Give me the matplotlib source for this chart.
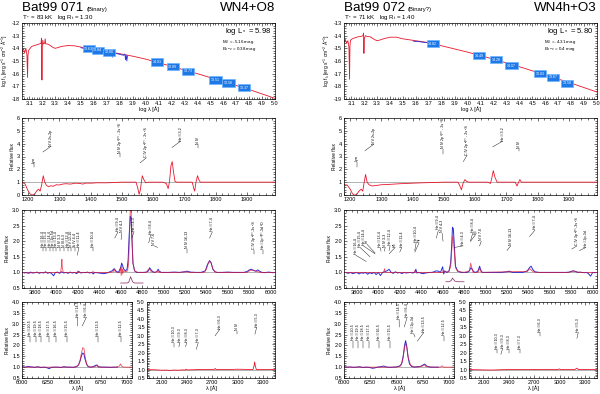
import numpy as np
import matplotlib
matplotlib.use("Agg")
import matplotlib.pyplot as plt
from matplotlib.ticker import MultipleLocator, FormatStrFormatter

plt.rcParams['font.family'] = ['Liberation Sans', 'DejaVu Sans']
plt.rcParams['mathtext.default'] = 'regular'

W, H = 600, 394

# ---------------- header text ----------------
star_names = ["Bat99 071", "Bat99 072"]
star_notes = ["(Binary)", "(Binary?)"]
spec_types = ["WN4+O8", "WN4h+O3"]
star_params = ["T$_*$ = 83 kK   log R$_t$ = 1.30", "T$_*$ = 71 kK   log R$_t$ = 1.40"]
lum_text = ["log L$_*$ = 5.98", "log L$_*$ = 5.80"]
mv_text = ["M$_V$ = -5.16 mag", "M$_V$ = -4.31 mag"]
ebv_text = ["E$_{b-v}$ = 0.38 mag", "E$_{b-v}$ = 0.4 mag"]
sed_ylims = [(-18, -12), (-19, -13)]

# ---------------- SED, Bat99 071 ----------------
sed_mod_x_071 = [3.045, 3.055, 3.065, 3.075, 3.083, 3.088, 3.091, 3.095, 3.10, 3.12,
                 3.15, 3.18, 3.192, 3.196, 3.199, 3.202, 3.206, 3.21, 3.22, 3.224,
                 3.228, 3.24, 3.26, 3.28, 3.30, 3.32, 3.35, 3.40, 3.45, 3.50,
                 3.60, 3.70, 3.80, 3.90, 4.00, 4.20, 4.40, 4.60, 4.80, 5.00]
sed_mod_y_071 = [-14.25, -14.0, -14.35, -14.0, -14.5, -16.3, -14.6, -14.2, -14.1, -13.85,
                 -13.75, -13.65, -13.6, -13.2, -16.5, -13.8, -13.35, -13.65, -13.6, -13.25,
                 -13.65, -13.65, -13.75, -13.9, -14.0, -13.95, -13.85, -13.78, -13.8, -13.9,
                 -14.1, -14.25, -14.42, -14.62, -14.85, -15.42, -16.0, -16.62, -17.25, -17.95]
sed_obs_x_071 = [3.50, 3.52, 3.54, 3.56, 3.58, 3.60, 3.62, 3.64, 3.66, 3.665,
                 3.67, 3.68, 3.70, 3.72, 3.74, 3.745, 3.75, 3.77, 3.79, 3.81,
                 3.83, 3.84, 3.845, 3.85, 3.855, 3.86]
sed_obs_y_071 = [-13.95, -14.0, -13.98, -14.08, -14.05, -14.12, -14.15, -14.18, -14.2, -13.95,
                 -14.3, -14.22, -14.28, -14.3, -14.35, -14.7, -14.35, -14.4, -14.45, -14.5,
                 -14.55, -14.45, -14.9, -14.55, -15.0, -14.6]
phot_x_071 = [3.56, 3.63, 3.72, 4.09, 4.21, 4.33, 4.54, 4.64, 4.76]
phot_y_071 = [-14.04, -14.15, -14.3, -15.08, -15.46, -15.8, -16.5, -16.74, -17.12]
phot_lbl_071 = ["13.63", "13.84", "13.80", "14.03", "13.89", "13.73", "13.51", "13.58", "13.37"]

# ---------------- SED, Bat99 072 ----------------
sed_mod_x_072 = [3.045, 3.055, 3.065, 3.075, 3.083, 3.088, 3.091, 3.095, 3.10, 3.12,
                 3.15, 3.18, 3.192, 3.196, 3.199, 3.202, 3.21, 3.22, 3.25, 3.28,
                 3.30, 3.32, 3.35, 3.40, 3.45, 3.50, 3.60, 3.70, 3.80, 3.90,
                 4.00, 4.20, 4.40, 4.60, 4.80, 5.00]
sed_mod_y_072 = [-14.5, -14.3, -14.6, -14.4, -14.9, -17.45, -14.8, -14.4, -14.3, -14.2,
                 -14.1, -14.05, -14.0, -13.8, -15.4, -14.2, -14.0, -14.05, -14.1, -14.3,
                 -14.4, -14.35, -14.25, -14.12, -14.12, -14.25, -14.4, -14.55, -14.8, -15.05,
                 -15.3, -15.85, -16.45, -17.1, -17.75, -18.45]
sed_obs_x_072 = [3.58, 3.60, 3.62, 3.64, 3.66, 3.68, 3.70, 3.72]
sed_obs_y_072 = [-14.42, -14.47, -14.45, -14.5, -14.52, -14.55, -14.52, -14.6]
phot_x_072 = [3.73, 4.09, 4.22, 4.34, 4.56, 4.66, 4.77]
phot_y_072 = [-14.62, -15.57, -15.9, -16.38, -17.0, -17.3, -17.77]
phot_lbl_072 = ["14.82", "14.49", "14.28", "14.07", "13.83", "13.67", "13.58"]

# ---------------- UV (relative flux) ----------------
uv_x_071 = [1181, 1190, 1198, 1205, 1212, 1220, 1228, 1233, 1238, 1243,
            1248, 1253, 1258, 1265, 1272, 1280, 1290, 1300, 1310, 1320,
            1335, 1350, 1365, 1375, 1385, 1400, 1420, 1450, 1480, 1500,
            1545, 1550, 1555, 1559, 1565, 1570, 1576, 1585, 1630, 1642,
            1648, 1652, 1657, 1661, 1665, 1670, 1676, 1725, 1730, 1733,
            1737, 1742, 1746, 1751, 1990]
uv_y_071 = [0.99, 0.85, 0.40, 0.10, 0.00, 0.05, 0.35, 0.45, 0.30, 0.80,
            1.50, 1.00, 0.75, 0.65, 0.72, 0.68, 0.80, 0.78, 0.85, 0.88,
            0.85, 0.92, 0.90, 0.85, 0.93, 0.92, 0.95, 0.95, 0.98, 1.00,
            1.00, 0.60, 0.05, 0.40, 1.50, 1.20, 0.95, 1.00, 1.00, 0.90,
            0.50, 1.00, 2.30, 2.60, 1.80, 1.05, 1.00, 1.00, 0.50, 0.30,
            1.00, 1.50, 1.20, 1.00, 1.00]
uv_x_072 = [1180, 1190, 1200, 1207, 1213, 1220, 1228, 1235, 1240, 1244,
            1249, 1254, 1260, 1270, 1285, 1300, 1320, 1340, 1360, 1380,
            1400, 1430, 1460, 1500, 1545, 1551, 1556, 1561, 1567, 1573,
            1580, 1640, 1649, 1653, 1658, 1663, 1670, 1728, 1734, 1739,
            1743, 1748, 1990]
uv_y_072 = [0.80, 0.78, 0.45, 0.10, 0.00, 0.02, 0.30, 0.45, 0.30, 0.90,
            1.60, 1.00, 0.80, 0.70, 0.75, 0.80, 0.82, 0.85, 0.88, 0.90,
            0.92, 0.95, 0.97, 1.00, 1.00, 0.70, 0.40, 0.90, 1.20, 1.05,
            1.00, 1.00, 0.90, 1.30, 1.90, 1.40, 1.00, 1.00, 0.70, 1.00,
            1.20, 1.00, 1.00]

# ---------------- optical ----------------
opt_obs_x_071 = [3700, 3720, 3740, 3760, 3780, 3800, 3820, 3840, 3860, 3880,
                 3900, 3920, 3940, 3960, 3975, 3990, 4010, 4030, 4050, 4070,
                 4090, 4110, 4130, 4150, 4170, 4190, 4210, 4230, 4250, 4270,
                 4290, 4310, 4330, 4345, 4360, 4380, 4400, 4420, 4440, 4460,
                 4480, 4500, 4520, 4540, 4560, 4580, 4600, 4610, 4620, 4630,
                 4645, 4660, 4670, 4680, 4690, 4698, 4705, 4715, 4730, 4750,
                 4780, 4810, 4840, 4860, 4870, 4880, 4900, 4920, 4940, 4950,
                 4960, 4980, 5000, 5050, 5100, 5150, 5200, 5220, 5250, 5300,
                 5350, 5390, 5410, 5430, 5445, 5460, 5480, 5500, 5550, 5600,
                 5650, 5700, 5750, 5780, 5800, 5820, 5840, 5860, 5880, 5900,
                 5920, 5940, 5960, 5980, 6000, 6020, 6040]
opt_obs_y_071 = [0.98, 1.00, 0.97, 1.01, 0.98, 0.99, 1.01, 0.97, 1.00, 0.98,
                 1.02, 0.97, 1.00, 0.95, 0.89, 0.99, 1.01, 0.97, 1.02, 0.98,
                 1.00, 0.97, 1.01, 0.98, 1.00, 0.96, 1.03, 0.98, 1.00, 0.99,
                 1.01, 0.98, 1.00, 0.95, 1.00, 0.99, 0.98, 0.97, 0.96, 0.97,
                 0.99, 1.02, 1.05, 1.12, 1.03, 1.00, 1.15, 1.30, 1.20, 1.10,
                 1.05, 1.10, 1.40, 2.20, 2.80, 2.75, 2.10, 1.30, 1.05, 1.00,
                 1.00, 1.00, 1.01, 1.05, 1.15, 1.10, 1.02, 1.00, 1.03, 1.10,
                 1.04, 1.00, 1.00, 1.00, 1.01, 1.00, 1.02, 1.04, 1.01, 1.00,
                 1.00, 1.05, 1.25, 1.38, 1.30, 1.10, 1.02, 1.00, 1.00, 1.01,
                 1.00, 1.00, 1.00, 1.03, 1.08, 1.10, 1.06, 1.04, 1.08, 1.03,
                 1.00, 0.99, 1.00, 1.01, 1.00, 0.99, 1.00]
opt_mod_x_071 = [3680, 3750, 3800, 3850, 3900, 3950, 4000, 4040, 4048, 4052,
                 4056, 4065, 4100, 4195, 4200, 4205, 4300, 4338, 4342, 4346,
                 4400, 4500, 4530, 4540, 4550, 4590, 4600, 4605, 4610, 4615,
                 4620, 4625, 4635, 4650, 4665, 4675, 4685, 4690, 4697, 4705,
                 4715, 4730, 4760, 4840, 4855, 4868, 4885, 4930, 4945, 4955,
                 4970, 5150, 5200, 5250, 5380, 5400, 5420, 5440, 5460, 5480,
                 5500, 5780, 5800, 5830, 5850, 5870, 5900, 6040]
opt_mod_y_071 = [1.00, 0.98, 1.00, 0.99, 1.00, 1.00, 1.00, 1.00, 1.20, 1.42,
                 1.15, 1.00, 1.00, 1.00, 1.05, 1.00, 1.00, 1.00, 1.04, 1.00,
                 1.00, 1.00, 1.02, 1.10, 1.02, 1.00, 1.15, 0.90, 1.20, 0.95,
                 1.10, 1.00, 1.05, 1.02, 1.05, 1.30, 2.50, 3.05, 3.10, 2.20,
                 1.30, 1.05, 1.00, 1.00, 1.08, 1.12, 1.02, 1.00, 1.07, 1.00,
                 1.00, 1.00, 1.02, 1.00, 1.00, 1.10, 1.32, 1.34, 1.12, 1.02,
                 1.00, 1.00, 1.05, 1.08, 1.06, 1.03, 1.00, 1.00]
opt_ins_x_071 = [4600, 4660, 4675, 4685, 4692, 4700, 4712, 4730, 4810]
opt_ins_y_071 = [0.66, 0.66, 0.68, 0.78, 0.86, 0.80, 0.70, 0.66, 0.66]

opt_obs_x_072 = [3700, 3720, 3740, 3760, 3780, 3800, 3820, 3840, 3860, 3880,
                 3900, 3920, 3940, 3960, 3980, 4000, 4020, 4040, 4060, 4080,
                 4100, 4120, 4140, 4160, 4180, 4200, 4220, 4240, 4260, 4280,
                 4300, 4320, 4340, 4350, 4360, 4380, 4400, 4420, 4440, 4460,
                 4480, 4500, 4520, 4540, 4560, 4580, 4600, 4610, 4620, 4640,
                 4660, 4675, 4685, 4692, 4700, 4710, 4720, 4740, 4770, 4800,
                 4830, 4850, 4862, 4875, 4890, 4910, 4930, 4945, 4955, 4970,
                 5000, 5050, 5100, 5150, 5200, 5220, 5250, 5300, 5350, 5390,
                 5410, 5425, 5440, 5460, 5500, 5550, 5600, 5650, 5700, 5750,
                 5780, 5800, 5820, 5840, 5860, 5880, 5900, 5920, 5940, 5960,
                 5980, 6000, 6020, 6040]
opt_obs_y_072 = [0.99, 0.97, 1.00, 0.96, 0.98, 1.00, 0.95, 0.99, 0.97, 1.00,
                 0.94, 0.99, 0.96, 1.00, 0.93, 1.00, 0.90, 1.00, 1.02, 1.05,
                 1.10, 1.00, 0.97, 1.02, 0.98, 1.00, 0.96, 1.00, 0.98, 0.99,
                 1.00, 0.98, 1.00, 1.10, 0.98, 1.00, 0.97, 0.96, 0.98, 0.99,
                 1.00, 1.00, 1.02, 1.05, 1.04, 1.00, 1.18, 0.95, 1.05, 1.00,
                 1.05, 1.30, 1.90, 2.45, 2.40, 1.80, 1.20, 1.05, 1.00, 1.00,
                 1.00, 1.05, 1.15, 1.10, 1.02, 1.00, 1.05, 1.20, 1.08, 1.00,
                 1.00, 1.00, 1.00, 1.00, 1.02, 1.04, 1.00, 1.00, 1.00, 1.05,
                 1.15, 1.20, 1.10, 1.02, 1.00, 1.00, 1.00, 1.00, 1.00, 1.00,
                 1.01, 1.03, 1.05, 1.03, 1.00, 1.01, 1.00, 0.99, 1.00, 0.96,
                 0.88, 1.00, 0.99, 1.00]
opt_mod_x_072 = [3680, 3800, 3900, 4000, 4050, 4058, 4066, 4100, 4200, 4335,
                 4342, 4350, 4500, 4600, 4605, 4640, 4660, 4675, 4685, 4693,
                 4700, 4710, 4720, 4740, 4800, 4850, 4862, 4872, 4885, 4930,
                 4945, 4952, 4965, 5200, 5390, 5412, 5425, 5445, 5480, 5780,
                 5810, 5840, 5870, 6040]
opt_mod_y_072 = [1.00, 1.00, 1.00, 1.00, 1.00, 1.12, 1.00, 1.00, 1.00, 1.00,
                 1.06, 1.00, 1.00, 1.00, 1.05, 1.00, 1.03, 1.20, 1.70, 2.15,
                 2.10, 1.60, 1.15, 1.03, 1.00, 1.05, 1.30, 1.15, 1.00, 1.00,
                 1.15, 1.05, 1.00, 1.02, 1.03, 1.12, 1.08, 1.02, 1.00, 1.00,
                 1.05, 1.03, 1.00, 1.00]
opt_ins_x_072 = [4630, 4660, 4680, 4692, 4700, 4715, 4740, 4800]
opt_ins_y_072 = [0.70, 0.70, 0.74, 0.82, 0.78, 0.72, 0.70, 0.70]

# ---------------- H-alpha region ----------------
ha_obs_x_071 = [6000, 6030, 6060, 6090, 6120, 6150, 6180, 6210, 6240, 6260,
                6280, 6310, 6340, 6370, 6400, 6430, 6460, 6490, 6520, 6540,
                6555, 6570, 6580, 6590, 6600, 6615, 6630, 6650, 6680, 6700,
                6715, 6730, 6760, 6800, 6840, 6880, 6910]
ha_obs_y_071 = [1.02, 1.00, 1.03, 1.01, 0.99, 1.02, 0.98, 1.00, 0.97, 0.93,
                0.99, 1.00, 1.00, 0.98, 1.02, 1.00, 1.00, 0.99, 1.02, 1.10,
                1.30, 1.55, 1.65, 1.62, 1.40, 1.15, 1.03, 1.00, 1.02, 1.08,
                1.10, 1.02, 1.00, 1.00, 0.99, 1.00, 1.00]
ha_mod_x_071 = [6000, 6100, 6200, 6300, 6400, 6500, 6530, 6550, 6565, 6580,
                6592, 6605, 6620, 6640, 6660, 6700, 6715, 6730, 6800, 6900,
                6930, 6940, 6950, 6970, 7050]
ha_mod_y_071 = [1.0, 1.0, 1.0, 1.0, 1.0, 1.0, 1.05, 1.2, 1.6, 1.9,
                1.85, 1.4, 1.1, 1.02, 1.0, 1.02, 1.08, 1.0, 1.0, 1.0,
                1.05, 1.15, 1.05, 1.0, 1.0]
ha_obs_x_072 = [6000, 6030, 6060, 6090, 6120, 6150, 6180, 6210, 6240, 6270,
                6290, 6320, 6350, 6380, 6410, 6440, 6470, 6500, 6530, 6550,
                6565, 6578, 6588, 6598, 6610, 6625, 6645, 6670, 6700, 6730,
                6755, 6770, 6790, 6820, 6860, 6900]
ha_obs_y_072 = [1.02, 1.00, 1.01, 0.99, 1.00, 1.02, 0.98, 1.00, 0.99, 0.95,
                0.96, 1.00, 1.02, 1.05, 1.00, 0.99, 1.00, 1.01, 1.05, 1.15,
                1.50, 2.00, 2.22, 2.00, 1.50, 1.15, 1.03, 1.00, 1.02, 1.03,
                1.10, 1.14, 1.05, 1.00, 1.00, 1.00]
ha_mod_x_072 = [6000, 6200, 6400, 6500, 6540, 6560, 6575, 6588, 6600, 6615,
                6635, 6660, 6700, 6750, 6765, 6780, 6850, 6920, 6935, 6950, 7050]
ha_mod_y_072 = [1.0, 1.0, 1.0, 1.0, 1.05, 1.3, 1.8, 2.1, 1.9, 1.4,
                1.1, 1.02, 1.0, 1.05, 1.12, 1.03, 1.0, 1.0, 1.06, 1.0, 1.0]

# ---------------- near-UV (2000-3400 A) ----------------
nuv_x_071 = [1930, 2050, 2100, 2150, 2200, 2250, 2300, 2350, 2380, 2390,
             2400, 2500, 2510, 2520, 2700, 2725, 2735, 2745, 2900, 3000,
             3180, 3192, 3200, 3208, 3220, 3440]
nuv_y_071 = [1.0, 0.98, 0.96, 0.97, 0.95, 0.97, 0.96, 0.98, 0.97, 1.02,
             0.98, 0.99, 1.01, 1.0, 1.0, 1.02, 1.06, 1.0, 1.0, 1.02,
             1.0, 1.2, 1.45, 1.2, 1.0, 1.0]
nuv_x_072 = [1930, 2100, 2200, 2300, 2400, 2700, 2730, 2750, 2980, 2995,
             3010, 3180, 3195, 3205, 3220, 3440]
nuv_y_072 = [1.0, 0.98, 0.97, 0.99, 1.0, 1.0, 1.01, 1.0, 1.0, 1.04,
             1.0, 1.0, 1.06, 1.08, 1.0, 1.0]

# ---------------- line identifications: (text, x_line, x_text, y_line, y_text) ----------------
uv_ids_071 = [("Ly\u03b1", 1217, 1217, 2.2, 2.5),
              ("N V 2s-2p", 1247, 1273, 3.35, 3.8),
              ("N IV 2p \u00b3P\u00b0 - 2s \u00b3S", 1495, 1495, 3.0, 3.25),
              ("C IV 2p \u00b2P\u00b0 - 2s \u00b2S", 1558, 1578, 2.5, 2.9),
              ("He II 3-2", 1660, 1688, 3.7, 4.2),
              ("N IV", 1745, 1745, 3.7, 3.95)]
uv_ids_072 = [("Ly\u03b1", 1221, 1221, 2.2, 2.6),
              ("N V 2s-2p", 1247, 1275, 3.45, 3.95),
              ("N IV 2p \u00b3P\u00b0 - 2s \u00b3S", 1497, 1497, 3.2, 3.6),
              ("C IV 2p \u00b2P\u00b0 - 2s \u00b2S", 1562, 1574, 2.6, 3.1),
              ("He II 3-2", 1656, 1688, 3.75, 4.2),
              ("N IV", 1741, 1741, 3.45, 3.65)]
opt_ids_071 = [("He II 16-4", 3875, 3875, 1.68, 1.8),
               ("He II 15-4", 3906, 3906, 1.68, 1.8),
               ("He II 14-4", 3937, 3937, 1.68, 1.8),
               ("He I 2p-5d", 3969, 3969, 1.68, 1.8),
               ("He II 13-4", 4000, 4000, 1.68, 1.8),
               ("N IV 3-3", 4037, 4037, 1.68, 1.8),
               ("N III 4-3", 4068, 4068, 1.68, 1.8),
               ("He II 12-4", 4106, 4106, 1.68, 1.8),
               ("N V 12-10", 4137, 4137, 1.68, 1.8),
               ("Si IV 4-4", 4174, 4174, 1.68, 1.8),
               ("He II 11-4", 4195, 4211, 1.55, 1.8),
               ("He II 10-4", 4340, 4340, 1.68, 1.8),
               ("He II 9-4", 4545, 4575, 2.1, 2.3),
               ("N V 4-3", 4604, 4610, 2.05, 2.25),
               ("He II 4-3", 4705, 4725, 2.1, 2.3),
               ("He II 8-4", 4862, 4880, 1.95, 2.2),
               ("N V 7-6", 4945, 4915, 1.8, 1.85),
               ("N IV 16-13", 5220, 5220, 1.62, 1.75),
               ("He II 7-4", 5430, 5455, 2.1, 2.3),
               ("C IV 3p \u00b2P\u00b0-3s \u00b2S", 5845, 5845, 1.6, 1.72),
               ("He I 2p \u00b3P\u00b0-3d \u00b3D", 5930, 5930, 1.6, 1.72)]
opt_ids_072 = [("He II 16-4", 3888, 3790, 1.35, 1.55),
               ("He II 15-4", 3923, 3830, 1.5, 1.8),
               ("He II 14-4", 3968, 3862, 1.6, 1.85),
               ("H\u03b5", 3970, 3895, 1.62, 1.9),
               ("He II 13-4", 4026, 4017, 1.68, 1.8),
               ("N IV 3-3", 4058, 4064, 1.68, 1.8),
               ("He II 12-4", 4100, 4110, 1.7, 1.85),
               ("H\u03b4", 4102, 4157, 1.6, 1.8),
               ("He II 11-4", 4200, 4219, 1.65, 1.8),
               ("He II 10-4", 4340, 4353, 1.7, 1.95),
               ("H\u03b3", 4341, 4380, 1.65, 1.95),
               ("He II 9-4", 4541, 4560, 2.1, 2.35),
               ("N V 4-3", 4604, 4595, 2.0, 2.25),
               ("He II 4-3", 4712, 4790, 1.8, 1.85),
               ("He II 8-4", 4859, 4880, 2.0, 2.25),
               ("H\u03b2", 4861, 4905, 2.0, 2.2),
               ("N V 7-6", 4945, 4960, 1.85, 2.0),
               ("N IV 16-13", 5200, 5235, 1.7, 1.85),
               ("He II 7-4", 5411, 5460, 2.15, 2.35),
               ("C IV 3p \u00b2P\u00b0-3s \u00b2S", 5805, 5853, 1.75, 1.85),
               ("He I 2p-3d", 5876, 5937, 1.7, 1.8)]
ha_ids_071 = [("He II 20-5", 6077, 6077, 2.17, 2.42),
              ("He II 19-5", 6135, 6135, 2.17, 2.42),
              ("He II 18-5", 6186, 6186, 2.17, 2.42),
              ("He II 17-5", 6253, 6253, 2.17, 2.42),
              ("He II 16-5", 6327, 6327, 2.17, 2.42),
              ("He II 15-5", 6430, 6430, 2.17, 2.42),
              ("He II 14-5", 6527, 6532, 2.9, 3.3),
              ("He II 6-4", 6575, 6615, 2.9, 3.3),
              ("He II 13-5", 6724, 6724, 2.17, 2.42),
              ("He II 12-5", 6942, 6942, 2.17, 2.42)]
ha_ids_072 = [("He II 20-5", 6090, 6090, 1.9, 2.2),
              ("He II 19-5", 6138, 6138, 1.9, 2.2),
              ("He II 18-5", 6186, 6186, 1.9, 2.2),
              ("He II 17-5", 6234, 6234, 1.9, 2.2),
              ("He II 16-5", 6330, 6330, 1.9, 2.2),
              ("He II 15-5", 6442, 6442, 1.9, 2.2),
              ("He II 14-5", 6527, 6526, 2.85, 3.2),
              ("He II 6-4", 6575, 6603, 2.85, 3.3),
              ("He I 2p-3d", 6678, 6663, 2.4, 2.55),
              ("He II 13-5", 6700, 6762, 2.2, 2.6),
              ("He II 12-5", 6955, 6955, 2.2, 2.45)]
nuv_ids_071 = [("He II 10-3", 2253, 2253, 2.35, 2.6),
               ("He II 9-3", 2306, 2319, 2.35, 2.6),
               ("He II 8-3", 2385, 2398, 2.35, 2.6),
               ("He II 7-3", 2511, 2535, 2.2, 2.6),
               ("He II 6-3", 2733, 2791, 3.0, 3.4),
               ("N IV", 2995, 2995, 3.1, 3.3),
               ("He II 5-3", 3203, 3224, 3.1, 3.5)]
nuv_ids_072 = [("He II 10-3", 2260, 2260, 2.0, 2.2),
               ("He II 9-3", 2306, 2327, 1.9, 2.25),
               ("He II 8-3", 2405, 2405, 2.0, 2.2),
               ("He II 7-3", 2531, 2531, 2.0, 2.2),
               ("He II 6-3", 2767, 2767, 3.0, 3.2),
               ("He II 5-3", 3203, 3219, 2.85, 3.2)]

RED = '#e8162c'
BLUE = '#2c2cd6'
FS_TICK = 4
FS_ID = 2.6

fig = plt.figure(figsize=(W / 100, H / 100), dpi=100)


def px_axes(x0, y0, x1, y1):
    return fig.add_axes([x0 / W, 1 - y1 / H, (x1 - x0) / W, (y1 - y0) / H])


def style(ax, xlim, ylim, xmaj, xmin, ymaj, ymin, xfmt, yfmt):
    ax.set_xlim(*xlim)
    ax.set_ylim(*ylim)
    ax.xaxis.set_major_locator(MultipleLocator(xmaj))
    ax.xaxis.set_minor_locator(MultipleLocator(xmin))
    ax.yaxis.set_major_locator(MultipleLocator(ymaj))
    ax.yaxis.set_minor_locator(MultipleLocator(ymin))
    ax.xaxis.set_major_formatter(FormatStrFormatter(xfmt))
    ax.yaxis.set_major_formatter(FormatStrFormatter(yfmt))
    ax.tick_params(which='both', direction='in', top=True, right=True,
                   labelsize=FS_TICK, width=0.4, pad=1.5)
    ax.tick_params(which='major', length=2.2)
    ax.tick_params(which='minor', length=1.1)
    for s in ax.spines.values():
        s.set_linewidth(0.5)


def add_ids(ax, ids):
    for txt, xl, xt, yl, yt in ids:
        ax.plot([xl, xt], [yl, yt], color='k', lw=0.3)
        ax.text(xt, yt + 0.03, txt, rotation=90, fontsize=FS_ID,
                ha='center', va='bottom')


stars = [
    dict(sed_mod=(sed_mod_x_071, sed_mod_y_071), sed_obs=(sed_obs_x_071, sed_obs_y_071),
         phot=(phot_x_071, phot_y_071, phot_lbl_071), uv=(uv_x_071, uv_y_071),
         opt_obs=(opt_obs_x_071, opt_obs_y_071), opt_mod=(opt_mod_x_071, opt_mod_y_071),
         opt_ins=(opt_ins_x_071, opt_ins_y_071),
         ha_obs=(ha_obs_x_071, ha_obs_y_071), ha_mod=(ha_mod_x_071, ha_mod_y_071),
         nuv=(nuv_x_071, nuv_y_071),
         ids=(uv_ids_071, opt_ids_071, ha_ids_071, nuv_ids_071)),
    dict(sed_mod=(sed_mod_x_072, sed_mod_y_072), sed_obs=(sed_obs_x_072, sed_obs_y_072),
         phot=(phot_x_072, phot_y_072, phot_lbl_072), uv=(uv_x_072, uv_y_072),
         opt_obs=(opt_obs_x_072, opt_obs_y_072), opt_mod=(opt_mod_x_072, opt_mod_y_072),
         opt_ins=(opt_ins_x_072, opt_ins_y_072),
         ha_obs=(ha_obs_x_072, ha_obs_y_072), ha_mod=(ha_mod_x_072, ha_mod_y_072),
         nuv=(nuv_x_072, nuv_y_072),
         ids=(uv_ids_072, opt_ids_072, ha_ids_072, nuv_ids_072)),
]

renderer = fig.canvas.get_renderer()

for i, d in enumerate(stars):
    off = 322 * i

    # header: name, note right after it, spectral type on the right
    t = fig.text((22 + off) / W, 1 - 11 / H, star_names[i], fontsize=9.6, va='baseline')
    bb = t.get_window_extent(renderer)
    fig.text((bb.x1 + 3) / W, 1 - 11 / H, star_notes[i], fontsize=4.2, va='baseline')
    fig.text((275 + off) / W, 1 - 11 / H, spec_types[i], fontsize=9.6, va='baseline', ha='right')
    fig.text((22 + off) / W, 1 - 19.5 / H, star_params[i], fontsize=4.4, va='baseline')

    # SED
    ax = px_axes(22 + off, 23, 275 + off, 99)
    style(ax, (3.045, 5.0), sed_ylims[i], 0.1, 0.02, 1, 0.2, '%.1f', '%d')
    ax.plot(*d['sed_mod'], color=RED, lw=0.6)
    ax.plot(*d['sed_obs'], color=BLUE, lw=0.6)
    for x, y, s in zip(*d['phot']):
        ax.text(x, y, s, fontsize=2.6, color='white', ha='center', va='center',
                bbox=dict(boxstyle='square,pad=0.45', fc='#1e78e6', ec='#6cb4ff', lw=0.5))
    ax.text(0.985, 0.87, lum_text[i], transform=ax.transAxes, fontsize=5.5, ha='right')
    ax.text(0.79, 0.74, mv_text[i], transform=ax.transAxes, fontsize=3.2)
    ax.text(0.79, 0.64, ebv_text[i], transform=ax.transAxes, fontsize=3.2)
    ax.set_xlabel('log \u03bb [\u00c5]', fontsize=4, labelpad=0.5)
    ax.set_ylabel('log f$_\\lambda$ [erg s$^{-1}$ cm$^{-2}$ \u00c5$^{-1}$]', fontsize=3.5, labelpad=1)

    uv_ids, opt_ids, ha_ids, nuv_ids = d['ids']

    # UV
    ax = px_axes(22 + off, 118, 275 + off, 195)
    style(ax, (1180, 1990), (0, 6), 100, 20, 1, 0.2, '%d', '%d')
    ax.axhline(1.0, color='#777777', lw=0.4)
    ax.plot(*d['uv'], color=RED, lw=0.6)
    add_ids(ax, uv_ids)
    ax.set_ylabel('Relative flux', fontsize=3.5, labelpad=1.5)

    # optical
    ax = px_axes(22 + off, 210, 275 + off, 288)
    style(ax, (3680, 6040), (0.5, 3.0), 200, 50, 0.5, 0.1, '%d', '%.1f')
    ax.axhline(1.0, color='#777777', lw=0.4)
    ax.plot(*d['opt_obs'], color=BLUE, lw=0.7)
    ax.plot(*d['opt_mod'], color=RED, lw=0.6, alpha=0.75)
    ax.plot(*d['opt_ins'], color='#8a2060', lw=0.5)
    add_ids(ax, opt_ids)
    ax.set_ylabel('Relative flux', fontsize=3.5, labelpad=1.5)

    # H-alpha region
    ax = px_axes(22 + off, 302, 132 + off, 378)
    style(ax, (6000, 7050), (0.5, 4.0), 250, 50, 0.5, 0.1, '%d', '%.1f')
    ax.axhline(1.0, color='#777777', lw=0.4)
    ax.plot(*d['ha_obs'], color=BLUE, lw=0.7)
    ax.plot(*d['ha_mod'], color=RED, lw=0.6, alpha=0.75)
    add_ids(ax, ha_ids)
    ax.set_ylabel('Relative flux', fontsize=3.5, labelpad=1.5)
    ax.set_xlabel('\u03bb [\u00c5]', fontsize=4, labelpad=0.5)

    # near-UV
    ax = px_axes(147 + off, 302, 275 + off, 378)
    style(ax, (1930, 3440), (0.5, 5.0), 300, 50, 0.5, 0.1, '%d', '%.1f')
    ax.axhline(1.0, color='#777777', lw=0.4)
    ax.plot(*d['nuv'], color=RED, lw=0.6)
    add_ids(ax, nuv_ids)
    ax.set_xlabel('\u03bb [\u00c5]', fontsize=4, labelpad=0.5)

fig.savefig('out.png', dpi=100)
